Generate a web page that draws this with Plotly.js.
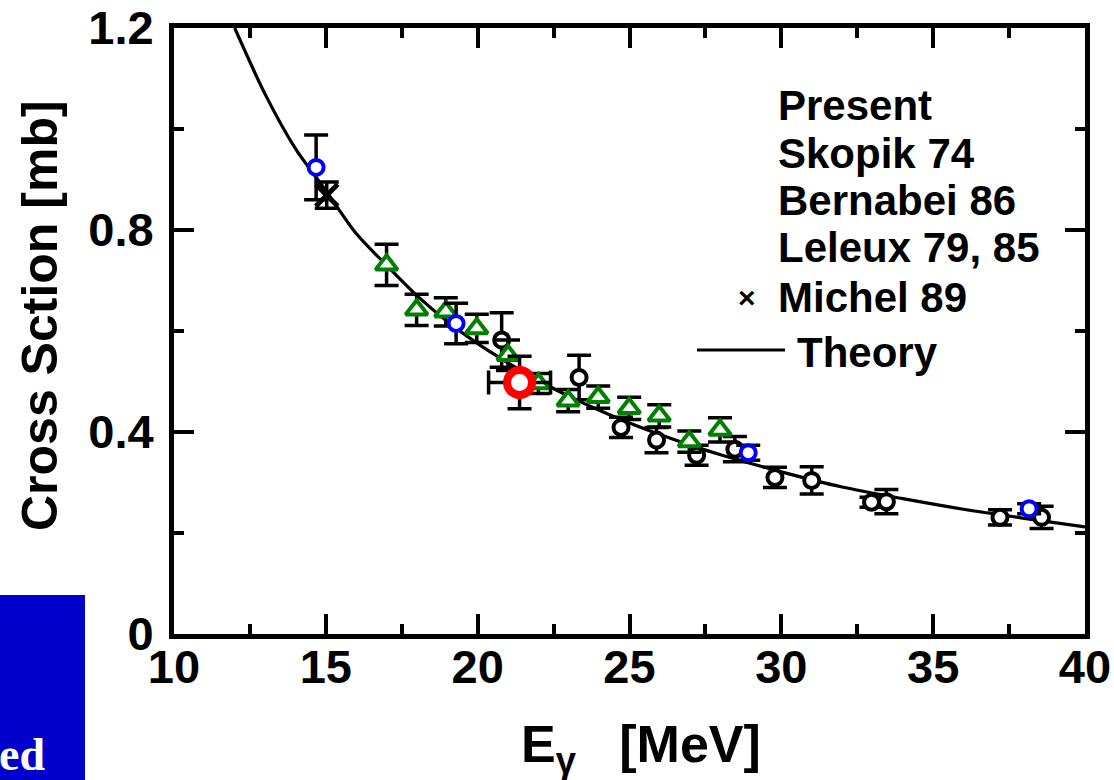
<!DOCTYPE html>
<html>
<head>
<meta charset="utf-8">
<script src="https://cdn.plot.ly/plotly-3.0.1.min.js"></script>
<style>
html,body{margin:0;padding:0;background:#fff;}
#chart{width:1114px;height:780px;}
</style>
</head>
<body>
<div id="chart"></div>
<script>
// ---- data ----
const theoryE = [12, 13, 14, 15, 16, 17, 18, 19, 20, 21, 22, 23, 24, 25, 26, 27, 28, 30, 32, 34, 36, 38, 40];
const theoryS = [1.20, 1.069, 0.961, 0.878, 0.793, 0.730, 0.670, 0.619, 0.575, 0.537, 0.502, 0.471, 0.443, 0.418, 0.395, 0.374, 0.355, 0.321, 0.291, 0.268, 0.247, 0.229, 0.212];

const presentE = [21.38];
const presentS = [0.498];
const presentErrS = [0.052];
const presentErrE = [1.02];

const skopikE = [14.68, 19.29, 28.91, 38.16];
const skopikS = [0.924, 0.615, 0.359, 0.248];
const skopikErr = [0.064, 0.040, 0.015, 0.010];

const bernabeiE = [17.0, 17.99, 18.95, 19.97, 21.0, 22.0, 22.98, 23.97, 24.99, 25.98, 26.97, 27.98];
const bernabeiS = [0.731, 0.642, 0.638, 0.605, 0.552, 0.496, 0.462, 0.469, 0.447, 0.432, 0.381, 0.404];
const bernabeiErr = [0.041, 0.031, 0.028, 0.028, 0.030, 0.020, 0.022, 0.022, 0.022, 0.022, 0.021, 0.024];

const leleuxE = [20.79, 23.34, 24.72, 25.89, 27.21, 28.47, 29.79, 31.0, 32.97, 33.46, 37.2, 38.57];
const leleuxS = [0.582, 0.508, 0.409, 0.384, 0.354, 0.366, 0.310, 0.304, 0.261, 0.262, 0.231, 0.231];
const leleuxErr = [0.054, 0.044, 0.020, 0.025, 0.020, 0.025, 0.020, 0.027, 0.010, 0.024, 0.015, 0.022];

const michelE = [15.03];
const michelS = [0.869];
const michelErr = [0.026];

const xTickVals = [10, 15, 20, 25, 30, 35, 40];
const xTickText = ['10', '15', '20', '25', '30', '35', '40'];
const yTickVals = [0, 0.4, 0.8, 1.2];
const yTickText = ['0', '0.4', '0.8', '1.2'];

const legendNames = ['Present', 'Skopik 74', 'Bernabei 86', 'Leleux 79, 85', 'Michel 89', 'Theory'];

// ---- figure ----
const FONT = 'Liberation Sans, Arial, Helvetica, sans-serif';
const eb = (arr, extra) => Object.assign({type: 'data', array: arr, visible: true, color: '#000', thickness: 3.5, width: 12}, extra || {});

const traces = [
  {x: theoryE, y: theoryS, name: legendNames[5], mode: 'lines', type: 'scatter',
   line: {color: '#000', width: 3.2, shape: 'spline', smoothing: 0.8}},
  {x: leleuxE, y: leleuxS, name: legendNames[3], mode: 'markers', type: 'scatter',
   error_y: eb(leleuxErr),
   marker: {symbol: 'circle', size: 15, color: '#fff', line: {color: '#000', width: 4}}},
  {x: bernabeiE, y: bernabeiS, name: legendNames[2], mode: 'markers', type: 'scatter',
   error_y: eb(bernabeiErr),
   marker: {symbol: 'triangle-up', size: 19, color: '#fff', line: {color: '#008000', width: 4}}},
  {x: skopikE, y: skopikS, name: legendNames[1], mode: 'markers', type: 'scatter',
   error_y: eb(skopikErr),
   marker: {symbol: 'circle', size: 15, color: '#fff', line: {color: '#0000ff', width: 4}}},
  {x: michelE, y: michelS, name: legendNames[4], mode: 'markers', type: 'scatter',
   error_y: eb(michelErr),
   marker: {symbol: 'x-thin-open', size: 22, color: '#000', line: {color: '#000', width: 5}}},
  {x: presentE, y: presentS, name: legendNames[0], mode: 'markers', type: 'scatter',
   error_y: eb(presentErrS),
   error_x: eb(presentErrE),
   marker: {symbol: 'circle', size: 25, color: '#fff', line: {color: '#ff0000', width: 8}}}
];

const L = 174, R = 1085, T = 28, B = 634;
const W = R - L, H = B - T;
const px = v => (v - L) / W;
const py = v => (B - v) / H;

const legendRows = [105, 154, 201, 248, 297, 352];
const annotations = legendNames.map((n, i) => ({
  xref: 'paper', yref: 'paper', x: px(i === 5 ? 795 : 776), y: py(legendRows[i]),
  xanchor: 'left', yanchor: 'middle', showarrow: false,
  text: '<b>' + n + '</b>', font: {family: FONT, size: 42, color: '#000'}
}));
annotations.push({xref: 'paper', yref: 'paper', x: px(747), y: py(298), xanchor: 'center', yanchor: 'middle',
  showarrow: false, text: '<b>×</b>', font: {family: FONT, size: 30, color: '#000'}});
annotations.push({xref: 'paper', yref: 'paper', x: px(40), y: py(316), xanchor: 'center', yanchor: 'middle',
  showarrow: false, textangle: -90, text: '<b>Cross Sction [mb]</b>', font: {family: FONT, size: 50, color: '#000'}});
annotations.push({xref: 'paper', yref: 'paper', x: px(641), y: py(748), xanchor: 'center', yanchor: 'middle',
  showarrow: false, text: '<b>E<sub>γ</sub>   [MeV]</b>', font: {family: FONT, size: 52, color: '#000'}});
annotations.push({xref: 'paper', yref: 'paper', x: px(47), y: py(754), xanchor: 'right', yanchor: 'middle',
  showarrow: false, text: '<b>ed</b>', font: {family: 'Liberation Serif, Times New Roman, serif', size: 46, color: '#fff'}});

const shapes = [
  {type: 'rect', xref: 'paper', yref: 'paper', x0: px(-5), x1: px(85), y0: py(595), y1: py(790),
   fillcolor: '#0000cc', line: {width: 0}, layer: 'below'},
  {type: 'line', xref: 'paper', yref: 'paper', x0: px(697), x1: px(785), y0: py(350), y1: py(350),
   line: {color: '#000', width: 3}}
];

const axisCommon = {
  showgrid: false, zeroline: false, showline: true, linecolor: '#000', linewidth: 5,
  mirror: 'allticks', ticks: 'inside', ticklen: 20, tickwidth: 4, tickcolor: '#000',
  tickfont: {family: FONT, size: 47, color: '#000', weight: 'bold'}
};

const layout = {
  width: 1114, height: 780,
  margin: {l: L, r: 1114 - R, t: T, b: 780 - B, pad: 0},
  paper_bgcolor: '#fff', plot_bgcolor: '#fff',
  showlegend: false,
  xaxis: Object.assign({}, axisCommon, {range: [10, 40], tickmode: 'array', tickvals: xTickVals, ticktext: xTickText,
    ticklabelstandoff: -12,
    minor: {dtick: 2.5, ticks: 'inside', ticklen: 10, tickwidth: 4, tickcolor: '#000'}}),
  yaxis: Object.assign({}, axisCommon, {range: [0, 1.2], tickmode: 'array', tickvals: yTickVals, ticktext: yTickText,
    ticklabelstandoff: 6,
    minor: {dtick: 0.2, ticks: 'inside', ticklen: 10, tickwidth: 4, tickcolor: '#000'}}),
  annotations: annotations,
  shapes: shapes
};

Plotly.newPlot('chart', traces, layout, {displayModeBar: false, staticPlot: true});
</script>
</body>
</html>
